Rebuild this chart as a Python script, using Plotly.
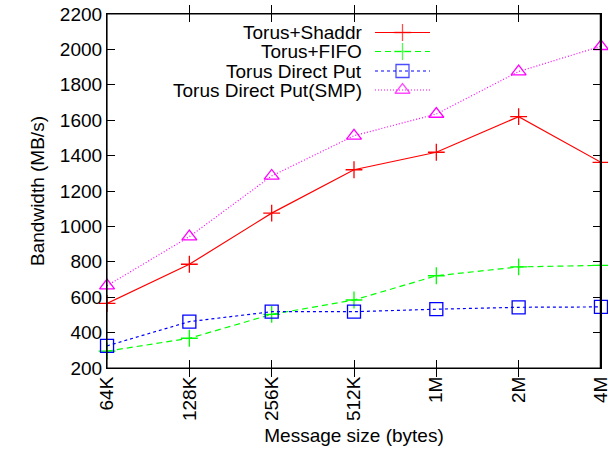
import plotly.graph_objects as go

sizes = ["64K", "128K", "256K", "512K", "1M", "2M", "4M"]
shaddr = [565, 786, 1075, 1320, 1419, 1620, 1362]
fifo = [295, 368, 503, 584, 721, 771, 780]
direct_put = [325, 462, 518, 518, 532, 543, 545]
direct_put_smp = [665, 942, 1285, 1512, 1635, 1875, 2018]

series = [
    ("Torus+Shaddr", shaddr, "#ff0000", "solid", "cross-thin-open", 12),
    ("Torus+FIFO", fifo, "#00ff00", "6px,4px", "cross-thin-open", 12),
    ("Torus Direct Put", direct_put, "#0000ff", "3px,3px", "square-open", 13),
    ("Torus Direct Put(SMP)", direct_put_smp, "#ff00ff", "1px,2px", "triangle-up-open", 13),
]

FONT = "Liberation Sans, Arial, Helvetica, sans-serif"
fig = go.Figure()
xi = list(range(len(sizes)))
for name, vals, color, dash, sym, ms in series:
    fig.add_trace(go.Scatter(
        x=xi, y=vals, mode="lines+markers", name=name,
        line=dict(color=color, width=1.2, dash=dash),
        marker=dict(symbol=sym, size=ms, color=color, line=dict(color=color, width=1.3)),
        cliponaxis=False, showlegend=False,
    ))

# invisible trace to activate the right-hand tick axis
fig.add_trace(go.Scatter(x=[xi[0]], y=[shaddr[0]], yaxis="y3", mode="markers",
                         marker=dict(opacity=0), showlegend=False, hoverinfo="skip"))

# right-hand frame line (drawn unclipped in the pixel-space overlay axes)
fig.add_trace(go.Scatter(x=[600.4, 600.4], y=[14, 368], xaxis="x2", yaxis="y2", mode="lines",
                         line=dict(color="black", width=1.3), showlegend=False,
                         hoverinfo="skip", cliponaxis=False))

# gnuplot-style legend (text right-aligned, key sample on the right)
leg_rows = [32.5, 51.5, 71, 90]
for (name, vals, color, dash, sym, ms), yy in zip(series, leg_rows):
    fig.add_trace(go.Scatter(
        x=[375, 402.5, 430], y=[yy, yy, yy], xaxis="x2", yaxis="y2",
        mode="lines+markers",
        line=dict(color=color, width=1.2, dash=dash),
        marker=dict(symbol=sym, size=[0, ms, 0], color=color, line=dict(color=color, width=1.3)),
        showlegend=False, hoverinfo="skip", cliponaxis=False,
    ))
    fig.add_annotation(x=364, y=yy, xref="x2", yref="y2", text=name, showarrow=False,
                       xanchor="right", yanchor="middle", font=dict(size=19, color="black", family=FONT))

# plot frame
fig.add_shape(type="rect", xref="x domain", yref="y domain", x0=0, x1=1, y0=0, y1=1,
              line=dict(color="black", width=1.2), layer="above")

fig.update_layout(
    width=608, height=456,
    margin=dict(l=107, r=7, t=14, b=88),
    paper_bgcolor="white", plot_bgcolor="white",
    font=dict(family=FONT, size=19, color="black"),
    xaxis=dict(
        tickmode="array", tickvals=xi, ticktext=sizes, range=[-0.0005, 6.0005],
        tickangle=-90, ticks="inside", ticklen=8, tickcolor="black",
        ticklabeloverflow="allow",
        showline=True, linecolor="black", linewidth=1.2, mirror="allticks",
        showgrid=False, zeroline=False, automargin=False,
        title=dict(text="Message size (bytes)", standoff=8, font=dict(size=19)),
    ),
    yaxis=dict(
        range=[199.9, 2200.1], dtick=200, tick0=200,
        ticks="inside", ticklen=8, tickcolor="black",
        showline=True, linecolor="black", linewidth=1.2, mirror="allticks",
        showgrid=False, zeroline=False, automargin=False,
        title=dict(text="Bandwidth (MB/s)", standoff=10, font=dict(size=19)),
    ),
    yaxis3=dict(
        overlaying="y", side="right", anchor="x", range=[199.9, 2200.1], dtick=200, tick0=200,
        ticks="inside", ticklen=8, tickcolor="black", showticklabels=False,
        showline=True, linecolor="black", linewidth=1.2,
        showgrid=False, zeroline=False, automargin=False, fixedrange=True,
    ),
    xaxis2=dict(overlaying="x", range=[107, 601], visible=False, fixedrange=True, automargin=False),
    yaxis2=dict(overlaying="y", range=[368, 14], visible=False, fixedrange=True, automargin=False),
)

fig.write_html(
    "out.html",
    config={"displayModeBar": False},
    post_script="document.body.style.margin='0';document.body.style.overflow='hidden';"
                "document.documentElement.style.overflow='hidden';",
)
